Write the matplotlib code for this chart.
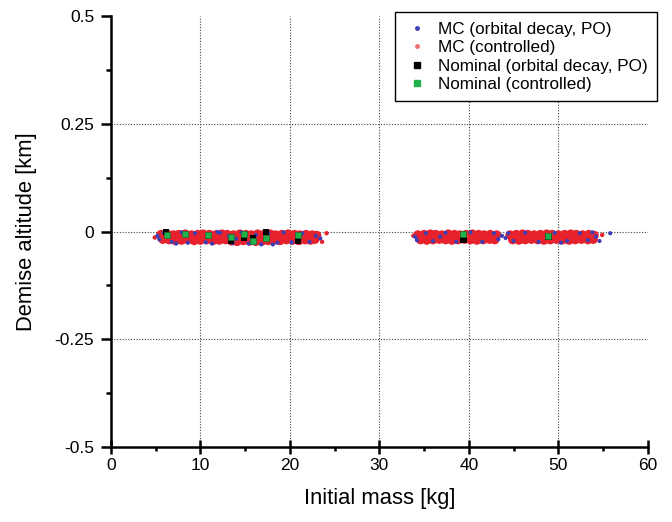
import matplotlib
matplotlib.use('Agg')
import matplotlib.pyplot as plt
from matplotlib.lines import Line2D
from matplotlib.ticker import MultipleLocator

plt.rcParams['font.family'] = ['Liberation Sans', 'DejaVu Sans']

# MC runs, controlled re-entry (upper and lower edge of the red band)
mc_ctrl_x_a = [5.6, 6.3, 7.0, 7.6, 8.3, 9.0, 9.7, 10.3, 11.0, 11.7, 12.4, 13.0, 13.7, 14.4,
               15.1, 15.7, 16.4, 17.1, 17.8, 18.4, 19.1, 19.8, 20.5, 21.1, 21.8, 22.5, 23.0,
               34.3, 35.0, 35.7, 36.3, 37.0, 37.7, 38.4, 39.0, 39.7, 40.4, 41.1, 41.7, 42.4, 43.1,
               44.6, 45.3, 46.0, 46.6, 47.3, 48.0, 48.7, 49.3, 50.0, 50.7, 51.4, 52.0, 52.7, 53.4, 54.0]
mc_ctrl_y_a = [-0.007, -0.006, -0.008, -0.007, -0.006, -0.008, -0.007, -0.006, -0.007, -0.008, -0.006, -0.007, -0.008, -0.006,
               -0.007, -0.008, -0.006, -0.007, -0.006, -0.008, -0.007, -0.006, -0.007, -0.008, -0.007, -0.008, -0.009,
               -0.008, -0.007, -0.006, -0.007, -0.008, -0.006, -0.007, -0.008, -0.007, -0.006, -0.007, -0.008, -0.007, -0.008,
               -0.008, -0.007, -0.006, -0.007, -0.008, -0.007, -0.006, -0.007, -0.008, -0.007, -0.006, -0.007, -0.008, -0.007, -0.009]
mc_ctrl_x_b = [5.8, 6.5, 7.2, 7.9, 8.6, 9.3, 10.0, 10.7, 11.4, 12.1, 12.8, 13.5, 14.1, 14.8,
               15.5, 16.2, 16.9, 17.6, 18.2, 18.9, 19.6, 20.3, 21.0, 21.7, 22.3, 22.8,
               34.6, 35.3, 36.0, 36.7, 37.4, 38.1, 38.8, 39.5, 40.2, 40.9, 41.6, 42.3, 42.9,
               44.9, 45.6, 46.3, 47.0, 47.7, 48.4, 49.1, 49.8, 50.5, 51.2, 51.9, 52.6, 53.3, 53.9]
mc_ctrl_y_b = [-0.018, -0.019, -0.021, -0.020, -0.019, -0.021, -0.020, -0.019, -0.021, -0.020, -0.019, -0.022, -0.023, -0.021,
               -0.022, -0.023, -0.022, -0.021, -0.020, -0.021, -0.019, -0.020, -0.021, -0.019, -0.020, -0.018,
               -0.019, -0.020, -0.019, -0.018, -0.019, -0.020, -0.019, -0.018, -0.019, -0.020, -0.019, -0.018, -0.019,
               -0.019, -0.020, -0.019, -0.018, -0.019, -0.020, -0.019, -0.018, -0.019, -0.020, -0.019, -0.018, -0.019, -0.018]
mc_ctrl_x_out = [24.1, 4.9, 33.8, 54.9, 23.6]
mc_ctrl_y_out = [-0.004, -0.014, -0.010, -0.008, -0.024]

# MC runs, orbital decay (PO) - visible mostly around the band edges
mc_decay_x = [5.2, 5.4, 5.9, 6.8, 7.9, 8.6, 9.4, 10.6, 11.3, 12.2, 13.2, 13.6, 14.6, 15.4, 16.2, 16.8,
              17.6, 18.6, 19.3, 20.2, 21.4, 22.2, 22.9, 23.4, 7.3, 11.9, 14.0, 18.1, 20.8,
              34.0, 34.2, 35.2, 36.0, 37.4, 38.6, 40.2, 41.5, 42.8, 43.3, 43.7, 44.4, 45.0, 46.3,
              47.8, 49.6, 51.0, 52.4, 53.3, 54.2, 54.6, 55.8, 36.8, 44.1, 50.3, 53.8]
mc_decay_y = [-0.010, -0.018, -0.003, -0.024, -0.002, -0.026, -0.004, -0.025, -0.028, -0.003, -0.010, -0.027,
              -0.002, -0.028, -0.008, -0.030, -0.003, -0.026, -0.002, -0.025, -0.004, -0.024, -0.010, -0.016,
              -0.028, -0.001, -0.017, -0.030, -0.012,
              -0.012, -0.020, -0.004, -0.022, -0.003, -0.024, -0.002, -0.024, -0.004, -0.018, -0.010, -0.004,
              -0.022, -0.003, -0.024, -0.003, -0.022, -0.004, -0.020, -0.012, -0.022, -0.004,
              -0.012, -0.015, -0.026, -0.002]

# nominal cases
nom_decay_x = [6.2, 13.4, 14.9, 15.9, 17.3, 20.9, 39.4, 48.9]
nom_decay_y = [-0.001, -0.022, -0.015, -0.015, -0.001, -0.022, -0.020, -0.012]
nom_ctrl_x = [6.3, 8.3, 10.8, 13.4, 14.9, 15.9, 17.3, 20.9, 39.4, 48.9]
nom_ctrl_y = [-0.008, -0.006, -0.008, -0.013, -0.006, -0.022, -0.014, -0.007, -0.006, -0.011]

blue = '#3d3db5'
red = '#e8222c'
green = '#22b24c'

fig = plt.figure(figsize=(6.72, 5.22), dpi=100)
ax = fig.add_axes([0.165, 0.144, 0.799, 0.825])

ax.scatter(mc_ctrl_x_a + mc_ctrl_x_b, mc_ctrl_y_a + mc_ctrl_y_b, s=45, color=red,
           edgecolors='none', zorder=3)
ax.scatter(mc_ctrl_x_out, mc_ctrl_y_out, s=10, color=red, edgecolors='none', zorder=3)
ax.scatter(mc_decay_x, mc_decay_y, s=9, color=blue, edgecolors='none', zorder=4)
ax.scatter(nom_decay_x, nom_decay_y, s=20, marker='s', color='black', edgecolors='none', zorder=5)
ax.scatter(nom_ctrl_x, nom_ctrl_y, s=20, marker='s', color=green, edgecolors='#1a6a30',
           linewidths=0.5, zorder=6)

ax.set_xlim(0, 60)
ax.set_ylim(-0.5, 0.5)
ax.set_xticks([0, 10, 20, 30, 40, 50, 60])
ax.set_yticks([-0.5, -0.25, 0, 0.25, 0.5])
ax.set_yticklabels(['-0.5', '-0.25', '0', '0.25', '0.5'])
ax.xaxis.set_minor_locator(MultipleLocator(5))
ax.yaxis.set_minor_locator(MultipleLocator(0.125))

# dotted grid at the inner ticks only
for xv in [10, 20, 30, 40, 50]:
    ax.axvline(xv, color='#444444', linestyle=(0, (1, 1.5)), linewidth=0.8, zorder=1)
for yv in [-0.25, 0, 0.25]:
    ax.axhline(yv, color='#444444', linestyle=(0, (1, 1.5)), linewidth=0.8, zorder=1)

for side in ['top', 'right']:
    ax.spines[side].set_visible(False)
for side in ['left', 'bottom']:
    ax.spines[side].set_linewidth(1.8)

ax.tick_params(axis='x', which='major', direction='inout', length=10, width=1.8, labelsize=12.5, pad=3)
ax.tick_params(axis='x', which='minor', direction='out', length=3, width=1.8)
ax.tick_params(axis='y', which='major', direction='out', length=7, width=1.8, labelsize=12.5, pad=5)
ax.tick_params(axis='y', which='minor', direction='out', length=3.5, width=1.8)

ax.set_xlabel('Initial mass [kg]', fontsize=15.8, labelpad=11)
ax.set_ylabel('Demise altitude [km]', fontsize=15.8, labelpad=13)

handles = [
    Line2D([], [], linestyle='none', marker='o', markersize=2.5, color=blue),
    Line2D([], [], linestyle='none', marker='o', markersize=2.5, color='#f07070'),
    Line2D([], [], linestyle='none', marker='s', markersize=4, color='black'),
    Line2D([], [], linestyle='none', marker='s', markersize=4, color=green),
]
labels = ['MC (orbital decay, PO)', 'MC (controlled)',
          'Nominal (orbital decay, PO)', 'Nominal (controlled)']
leg = ax.legend(handles, labels, loc='upper right', bbox_to_anchor=(1.017, 1.009),
                fontsize=12.3, frameon=True, fancybox=False, edgecolor='black',
                framealpha=1, handlelength=1.45, handletextpad=0.5, borderpad=0.55,
                labelspacing=0.2, borderaxespad=0)
leg.get_frame().set_linewidth(1.0)

fig.savefig('out.png', dpi=100)
